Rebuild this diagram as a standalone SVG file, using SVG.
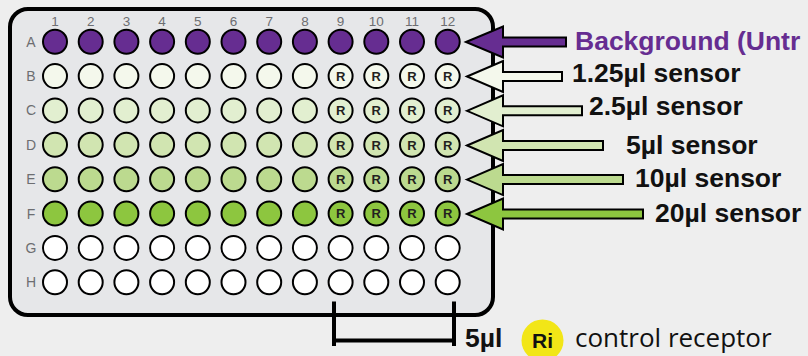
<svg xmlns="http://www.w3.org/2000/svg" width="808" height="356" viewBox="0 0 808 356">
<style>
.bg{fill:#eeeeee}
.plate{fill:#e6e7e9;stroke:#000;stroke-width:4}
.w{stroke:#000;stroke-width:2}
.wA{fill:#662d91}.wB{fill:#f4f8ec}.wC{fill:#e2efd0}.wD{fill:#d1e5b1}.wE{fill:#bcda8f}.wF{fill:#8dc63f}.wG{fill:#ffffff}
.num{font-family:"Liberation Sans",Arial,sans-serif;font-size:13.5px;fill:#6d6e71;text-anchor:middle}
.let{font-family:"Liberation Sans",Arial,sans-serif;font-size:14px;fill:#6d6e71;text-anchor:middle}
.r{font-family:"Liberation Sans",Arial,sans-serif;font-size:13px;font-weight:bold;fill:#231f20;text-anchor:middle}
.arr{stroke:#000;stroke-width:2;stroke-linejoin:miter}
.lbl{font-family:"Liberation Sans",Arial,sans-serif;font-size:26.5px;font-weight:bold;fill:#111}
.reg{font-family:"Open Sans","Noto Sans",sans-serif;font-size:26px;fill:#111}
.br{stroke:#000;stroke-width:4;fill:none}
</style>
<rect class="bg" x="0" y="0" width="808" height="356"/>
<g id="plate">
<rect class="plate" x="10" y="9" width="483" height="306" rx="18"/>
<g id="col-numbers">
<text class="num" x="55" y="26">1</text><text class="num" x="90.7" y="26">2</text><text class="num" x="126.4" y="26">3</text><text class="num" x="162.1" y="26">4</text><text class="num" x="197.8" y="26">5</text><text class="num" x="233.5" y="26">6</text><text class="num" x="269.2" y="26">7</text><text class="num" x="304.9" y="26">8</text><text class="num" x="340.6" y="26">9</text><text class="num" x="376.3" y="26">10</text><text class="num" x="412" y="26">11</text><text class="num" x="447.7" y="26">12</text>
</g>
<g id="row-letters">
<text class="let" x="31" y="46.7">A</text><text class="let" x="31" y="81.1">B</text><text class="let" x="31" y="115.4">C</text><text class="let" x="31" y="149.8">D</text><text class="let" x="31" y="184.2">E</text><text class="let" x="31" y="218.5">F</text><text class="let" x="31" y="252.9">G</text><text class="let" x="31" y="287.3">H</text>
</g>
</g>
<g id="row-A" class="w wA">
<circle cx="55" cy="41.7" r="12"/><circle cx="90.7" cy="41.7" r="12"/><circle cx="126.4" cy="41.7" r="12"/><circle cx="162.1" cy="41.7" r="12"/><circle cx="197.8" cy="41.7" r="12"/><circle cx="233.5" cy="41.7" r="12"/><circle cx="269.2" cy="41.7" r="12"/><circle cx="304.9" cy="41.7" r="12"/><circle cx="340.6" cy="41.7" r="12"/><circle cx="376.3" cy="41.7" r="12"/><circle cx="412" cy="41.7" r="12"/><circle cx="447.7" cy="41.7" r="12"/>
</g>
<g id="row-B" class="w wB">
<circle cx="55" cy="76.1" r="12"/><circle cx="90.7" cy="76.1" r="12"/><circle cx="126.4" cy="76.1" r="12"/><circle cx="162.1" cy="76.1" r="12"/><circle cx="197.8" cy="76.1" r="12"/><circle cx="233.5" cy="76.1" r="12"/><circle cx="269.2" cy="76.1" r="12"/><circle cx="304.9" cy="76.1" r="12"/><circle cx="340.6" cy="76.1" r="12"/><circle cx="376.3" cy="76.1" r="12"/><circle cx="412" cy="76.1" r="12"/><circle cx="447.7" cy="76.1" r="12"/>
</g>
<g id="row-C" class="w wC">
<circle cx="55" cy="110.4" r="12"/><circle cx="90.7" cy="110.4" r="12"/><circle cx="126.4" cy="110.4" r="12"/><circle cx="162.1" cy="110.4" r="12"/><circle cx="197.8" cy="110.4" r="12"/><circle cx="233.5" cy="110.4" r="12"/><circle cx="269.2" cy="110.4" r="12"/><circle cx="304.9" cy="110.4" r="12"/><circle cx="340.6" cy="110.4" r="12"/><circle cx="376.3" cy="110.4" r="12"/><circle cx="412" cy="110.4" r="12"/><circle cx="447.7" cy="110.4" r="12"/>
</g>
<g id="row-D" class="w wD">
<circle cx="55" cy="144.8" r="12"/><circle cx="90.7" cy="144.8" r="12"/><circle cx="126.4" cy="144.8" r="12"/><circle cx="162.1" cy="144.8" r="12"/><circle cx="197.8" cy="144.8" r="12"/><circle cx="233.5" cy="144.8" r="12"/><circle cx="269.2" cy="144.8" r="12"/><circle cx="304.9" cy="144.8" r="12"/><circle cx="340.6" cy="144.8" r="12"/><circle cx="376.3" cy="144.8" r="12"/><circle cx="412" cy="144.8" r="12"/><circle cx="447.7" cy="144.8" r="12"/>
</g>
<g id="row-E" class="w wE">
<circle cx="55" cy="179.2" r="12"/><circle cx="90.7" cy="179.2" r="12"/><circle cx="126.4" cy="179.2" r="12"/><circle cx="162.1" cy="179.2" r="12"/><circle cx="197.8" cy="179.2" r="12"/><circle cx="233.5" cy="179.2" r="12"/><circle cx="269.2" cy="179.2" r="12"/><circle cx="304.9" cy="179.2" r="12"/><circle cx="340.6" cy="179.2" r="12"/><circle cx="376.3" cy="179.2" r="12"/><circle cx="412" cy="179.2" r="12"/><circle cx="447.7" cy="179.2" r="12"/>
</g>
<g id="row-F" class="w wF">
<circle cx="55" cy="213.5" r="12"/><circle cx="90.7" cy="213.5" r="12"/><circle cx="126.4" cy="213.5" r="12"/><circle cx="162.1" cy="213.5" r="12"/><circle cx="197.8" cy="213.5" r="12"/><circle cx="233.5" cy="213.5" r="12"/><circle cx="269.2" cy="213.5" r="12"/><circle cx="304.9" cy="213.5" r="12"/><circle cx="340.6" cy="213.5" r="12"/><circle cx="376.3" cy="213.5" r="12"/><circle cx="412" cy="213.5" r="12"/><circle cx="447.7" cy="213.5" r="12"/>
</g>
<g id="row-G" class="w wG">
<circle cx="55" cy="247.9" r="12"/><circle cx="90.7" cy="247.9" r="12"/><circle cx="126.4" cy="247.9" r="12"/><circle cx="162.1" cy="247.9" r="12"/><circle cx="197.8" cy="247.9" r="12"/><circle cx="233.5" cy="247.9" r="12"/><circle cx="269.2" cy="247.9" r="12"/><circle cx="304.9" cy="247.9" r="12"/><circle cx="340.6" cy="247.9" r="12"/><circle cx="376.3" cy="247.9" r="12"/><circle cx="412" cy="247.9" r="12"/><circle cx="447.7" cy="247.9" r="12"/>
</g>
<g id="row-H" class="w wG">
<circle cx="55" cy="282.3" r="12"/><circle cx="90.7" cy="282.3" r="12"/><circle cx="126.4" cy="282.3" r="12"/><circle cx="162.1" cy="282.3" r="12"/><circle cx="197.8" cy="282.3" r="12"/><circle cx="233.5" cy="282.3" r="12"/><circle cx="269.2" cy="282.3" r="12"/><circle cx="304.9" cy="282.3" r="12"/><circle cx="340.6" cy="282.3" r="12"/><circle cx="376.3" cy="282.3" r="12"/><circle cx="412" cy="282.3" r="12"/><circle cx="447.7" cy="282.3" r="12"/>
</g>
<g id="receptor-marks">
<text class="r" x="340.6" y="80.8">R</text><text class="r" x="376.3" y="80.8">R</text><text class="r" x="412" y="80.8">R</text><text class="r" x="447.7" y="80.8">R</text>
<text class="r" x="340.6" y="115.1">R</text><text class="r" x="376.3" y="115.1">R</text><text class="r" x="412" y="115.1">R</text><text class="r" x="447.7" y="115.1">R</text>
<text class="r" x="340.6" y="149.5">R</text><text class="r" x="376.3" y="149.5">R</text><text class="r" x="412" y="149.5">R</text><text class="r" x="447.7" y="149.5">R</text>
<text class="r" x="340.6" y="183.9">R</text><text class="r" x="376.3" y="183.9">R</text><text class="r" x="412" y="183.9">R</text><text class="r" x="447.7" y="183.9">R</text>
<text class="r" x="340.6" y="218.2">R</text><text class="r" x="376.3" y="218.2">R</text><text class="r" x="412" y="218.2">R</text><text class="r" x="447.7" y="218.2">R</text>
</g>
<g id="connectors">
<path class="arr" fill="#662d91" d="M466,42 L503,26.5 L503,37.5 L566,37.5 L566,46.5 L503,46.5 L503,57.5 Z"/>
<path class="arr" fill="#f4f8ec" d="M467,76.5 L503,61 L503,72 L562,72 L562,81 L503,81 L503,92 Z"/>
<path class="arr" fill="#e2efd0" d="M467,110.8 L503,95.3 L503,106.3 L582,106.3 L582,115.3 L503,115.3 L503,126.3 Z"/>
<path class="arr" fill="#d1e5b1" d="M467,145.5 L503,130 L503,141 L603,141 L603,150 L503,150 L503,161 Z"/>
<path class="arr" fill="#bcda8f" d="M467,179.6 L503,164.1 L503,175.1 L623,175.1 L623,184.1 L503,184.1 L503,195.1 Z"/>
<path class="arr" fill="#8dc63f" d="M467,214 L503,198.5 L503,209.5 L643,209.5 L643,218.5 L503,218.5 L503,229.5 Z"/>
<path class="br" d="M334,301.5 V346 M454,301.5 V346 M334,340.5 H454"/>
</g>
<g id="label-background"><text class="lbl" x="575" y="50" style="fill:#662d91">Background (Untr</text></g>
<g id="label-1-25"><text class="lbl" x="572" y="82">1.25µl sensor</text></g>
<g id="label-2-5"><text class="lbl" x="589" y="115">2.5µl sensor</text></g>
<g id="label-5"><text class="lbl" x="626" y="154">5µl sensor</text></g>
<g id="label-10"><text class="lbl" x="635" y="187">10µl sensor</text></g>
<g id="label-20"><text class="lbl" x="655" y="221.5">20µl sensor</text></g>
<g id="legend">
<text class="lbl" x="465" y="347">5µl</text>
<circle cx="542.5" cy="340.5" r="21" fill="#f2e617"/>
<text class="lbl" x="542.5" y="347.5" style="font-size:21px;text-anchor:middle">Ri</text>
<text class="reg" x="575" y="347">control receptor</text>
</g>
</svg>
